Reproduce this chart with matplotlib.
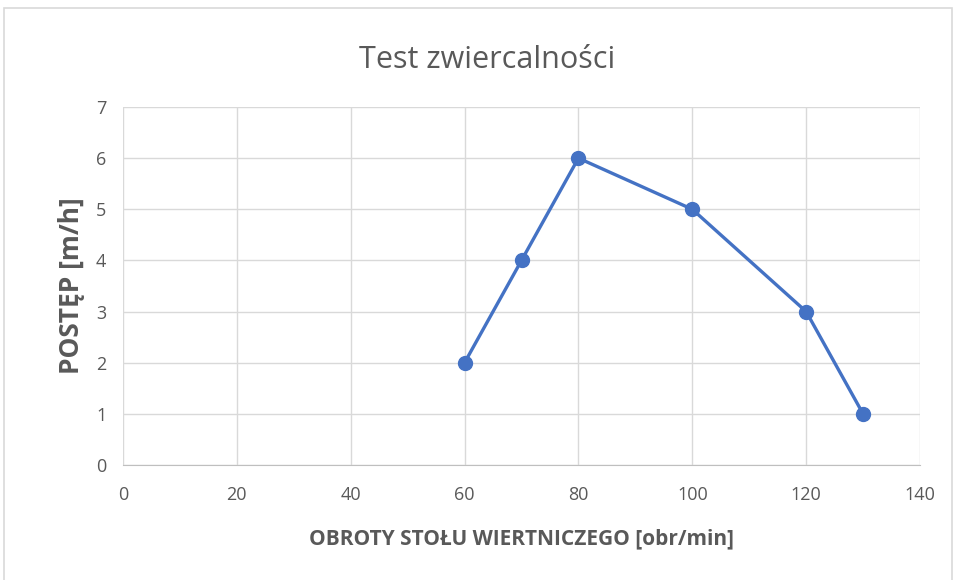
import matplotlib
matplotlib.use("Agg")
import matplotlib.pyplot as plt
from matplotlib.patches import Rectangle

# data
obroty = [60, 70, 80, 100, 120, 130]
postep = [2, 4, 6, 5, 3, 1]
x_ticks = [0, 20, 40, 60, 80, 100, 120, 140]
y_ticks = [0, 1, 2, 3, 4, 5, 6, 7]

narrow = ["Liberation Sans Narrow", "Open Sans", "DejaVu Sans"]
text_grey = "#595959"

fig = plt.figure(figsize=(9.55, 5.8), dpi=100)
ax = fig.add_axes([123 / 955, 1 - 465 / 580, (920 - 123) / 955, (465 - 107) / 580])

# outer chart frame, like the Excel chart area border
fig.patches.append(Rectangle((4 / 955, -0.05), 948 / 955, 1.05 - 8 / 580,
                             transform=fig.transFigure, fill=False,
                             edgecolor="#d9d9d9", linewidth=1.2))

ax.plot(obroty, postep, color="#4472c4", linewidth=2.4, marker="o",
        markersize=10, zorder=3, solid_capstyle="round")

ax.set_xlim(0, 140)
ax.set_ylim(0, 7)
ax.set_xticks(x_ticks)
ax.set_yticks(y_ticks)
ax.grid(True, color="#d9d9d9", linewidth=1)
ax.set_axisbelow(True)

for side in ["top", "right", "left"]:
    ax.spines[side].set_visible(False)
ax.spines["bottom"].set_color("#bfbfbf")
ax.tick_params(axis="x", length=0, pad=15, labelcolor=text_grey)
ax.tick_params(axis="y", length=0, pad=12, labelcolor=text_grey)
for lbl in ax.get_xticklabels() + ax.get_yticklabels():
    lbl.set_family(narrow)
    lbl.set_fontsize(13)

# title is centred on the whole chart area, a bit left of the plot centre
ax.set_title("Test zwiercalności", family=narrow, fontsize=22, color=text_grey,
             pad=28, x=0.457)
ax.set_xlabel("OBROTY STOŁU WIERTNICZEGO [obr/min]", family=narrow, fontsize=15,
              fontweight="bold", color=text_grey, labelpad=18)
ax.set_ylabel("POSTĘP [m/h]", family=narrow, fontsize=19, fontweight="bold",
              color=text_grey, labelpad=8)

fig.savefig("out.png", dpi=100)
